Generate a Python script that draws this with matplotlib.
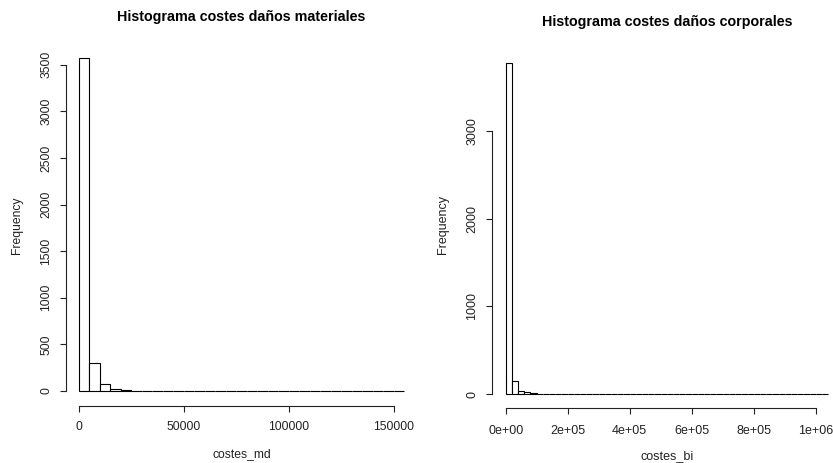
import numpy as np
import matplotlib
matplotlib.use("Agg")
import matplotlib.pyplot as plt

plt.rcParams['font.family'] = ['Liberation Sans', 'DejaVu Sans']

# material damage costs: counts per 5000 bin, 0 .. 155000
md_width = 5000
md_counts = [3575, 297, 72, 18, 7, 5, 3, 3, 2, 0, 0, 0, 0, 3, 0, 3,
             0, 0, 0, 0, 0, 0, 0, 0, 0, 0, 0, 0, 0, 0, 3]
md_ticks = [0, 50000, 100000, 150000]
md_tick_labels = ["0", "50000", "100000", "150000"]
md_yticks = [0, 500, 1000, 1500, 2000, 2500, 3000, 3500]

# bodily injury costs: counts per 20000 bin, 0 .. 1040000
bi_width = 20000
bi_counts = [3770, 152, 34, 19, 17, 4, 3, 3, 2, 0, 0, 0, 3, 0, 3, 0,
             0, 0, 0, 0, 0, 0, 0, 0, 0, 0, 0, 2, 0, 0, 0, 0,
             0, 0, 0, 0, 0, 0, 0, 0, 0, 0, 0, 0, 0, 0, 0, 0,
             0, 0, 0, 2]
bi_ticks = [0, 200000, 400000, 600000, 800000, 1000000]
bi_tick_labels = ["0e+00", "2e+05", "4e+05", "6e+05", "8e+05", "1e+06"]
bi_yticks = [0, 1000, 2000, 3000]

W, H = 833, 463
INK = '#222222'
fig = plt.figure(figsize=(W / 100, H / 100), dpi=100)


def px_axes(left, right, top, bottom):
    return fig.add_axes([left / W, 1 - bottom / H, (right - left) / W, (bottom - top) / H])


def r_hist(ax, width, counts, xticks, xlabels, yticks, xlim, ylim, size, xpad):
    edges = np.arange(len(counts) + 1) * width
    ax.hist(edges[:-1], bins=edges, weights=counts, color='white',
            edgecolor='black', linewidth=0.8)
    ax.set_xlim(*xlim)
    ax.set_ylim(*ylim)
    for s in ('top', 'right'):
        ax.spines[s].set_visible(False)
    ax.spines['left'].set_bounds(yticks[0], yticks[-1])
    ax.spines['bottom'].set_bounds(xticks[0], xticks[-1])
    for s in ('left', 'bottom'):
        ax.spines[s].set_linewidth(0.8)
        ax.spines[s].set_color(INK)
    ax.set_xticks(xticks)
    ax.set_xticklabels(xlabels)
    ax.set_yticks(yticks)
    ax.set_yticklabels([str(v) for v in yticks], rotation=90, va='center')
    ax.tick_params(length=4, width=0.8, color=INK, labelsize=size,
                   labelcolor=INK)
    ax.tick_params(axis='x', pad=xpad)
    ax.tick_params(axis='y', pad=6)


def r_labels(ax, xlabel, xpos, ylabel, ypos, size):
    ax.set_xlabel(xlabel, fontsize=size, color=INK, va='center')
    ax.xaxis.set_label_coords(xpos[0] / W, 1 - xpos[1] / H, transform=fig.transFigure)
    ax.set_ylabel(ylabel, fontsize=size, color=INK, va='center')
    ax.yaxis.set_label_coords(ypos[0] / W, 1 - ypos[1] / H, transform=fig.transFigure)


ax1 = px_axes(66, 417.5, 44.5, 405.7)
r_hist(ax1, md_width, md_counts, md_ticks, md_tick_labels, md_yticks,
       (-6190, 161200), (-158, 3718), 8.7, 7)
r_labels(ax1, "costes_md", (242, 454), "Frequency", (17, 225), 8.7)

ax2 = px_axes(492.3, 841, 50.1, 408.3)
r_hist(ax2, bi_width, bi_counts, bi_ticks, bi_tick_labels, bi_yticks,
       (-43200, 1081600), (-163, 3921), 9.0, 8)
r_labels(ax2, "costes_bi", (667, 456), "Frequency", (443, 225), 9.0)

fig.text(241, H - 17, "Histograma costes daños materiales", transform=None,
         ha='center', va='center', fontsize=10.3, fontweight='bold')
fig.text(667, H - 22, "Histograma costes daños corporales", transform=None,
         ha='center', va='center', fontsize=10.3, fontweight='bold')

fig.savefig("out.png", dpi=100)
